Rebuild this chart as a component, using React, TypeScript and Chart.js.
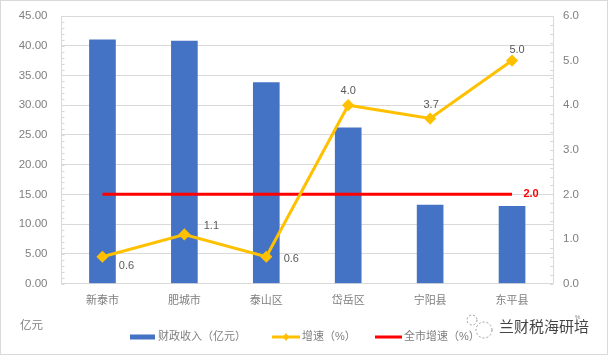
import React, { useEffect, useRef } from "react";
import { Chart, registerables } from "chart.js";

Chart.register(...registerables);

const categories = ["新泰市", "肥城市", "泰山区", "岱岳区", "宁阳县", "东平县"];
const revenue = [41.0, 40.8, 33.8, 26.2, 13.2, 13.0];
const growth = [0.6, 1.1, 0.6, 4.0, 3.7, 5.0];
const cityGrowth = [2.0, 2.0, 2.0, 2.0, 2.0, 2.0];
const seriesNames = ["财政收入（亿元）", "增速（%）", "全市增速（%）"];

const FONT = '"Liberation Sans", "Noto Sans CJK SC", sans-serif';
const GREY = "#7f7f7f";
const GRID = "#d9d9d9";
const labelOffsets: [number, number][] = [
  [24, 9],
  [27, -8],
  [25, 2],
  [0, -14],
  [1, -14],
  [5, -11],
];

const decorations = {
  id: "decorations",
  beforeDatasetsDraw(chart: any) {
    const { ctx, chartArea: a } = chart;
    ctx.save();
    ctx.strokeStyle = GRID;
    ctx.lineWidth = 1;
    const tick = (x0: number, x1: number, y: number) => {
      ctx.beginPath();
      ctx.moveTo(x0, y);
      ctx.lineTo(x1, y);
      ctx.stroke();
    };
    const h = a.bottom - a.top;
    for (let i = 0; i <= 45; i++) {
      const y = Math.round(a.top + (h * i) / 45) + 0.5;
      tick(a.left, a.left + 3, y);
    }
    for (let i = 0; i <= 30; i++) {
      const y = Math.round(a.top + (h * i) / 30) + 0.5;
      tick(a.right - 3, a.right, y);
    }
    ctx.restore();
  },
  afterDraw(chart: any) {
    const { ctx, width, height } = chart;
    ctx.save();
    // outer frame
    ctx.strokeStyle = GRID;
    ctx.lineWidth = 2;
    ctx.strokeRect(0, 0, width, height);

    // value labels
    ctx.font = `11px ${FONT}`;
    ctx.fillStyle = "#595959";
    ctx.textAlign = "center";
    ctx.textBaseline = "middle";
    const lineMeta = chart.getDatasetMeta(1);
    growth.forEach((v, i) => {
      const p = lineMeta.data[i];
      ctx.fillText(v.toFixed(1), p.x + labelOffsets[i][0], p.y + labelOffsets[i][1]);
    });
    const redMeta = chart.getDatasetMeta(0);
    const last = redMeta.data[5];
    ctx.font = `bold 11px ${FONT}`;
    ctx.fillStyle = "#ff0000";
    ctx.fillText(cityGrowth[5].toFixed(1), last.x + 19, last.y);

    // unit
    ctx.font = `11.5px ${FONT}`;
    ctx.fillStyle = GREY;
    ctx.textAlign = "left";
    ctx.fillText("亿元", 20, 326);

    // legend
    const y = 337;
    ctx.font = `11px ${FONT}`;
    const swatch = (x: number, w: number, color: string, thick: number) => {
      ctx.fillStyle = color;
      ctx.fillRect(x, y - thick / 2, w, thick);
    };
    swatch(130, 25, "#4472c4", 5);
    ctx.fillStyle = GREY;
    ctx.fillText(seriesNames[0], 158, y);
    swatch(272, 28, "#ffc000", 3);
    ctx.fillStyle = "#ffc000";
    ctx.beginPath();
    ctx.moveTo(286, y - 4);
    ctx.lineTo(289, y);
    ctx.lineTo(286, y + 4);
    ctx.lineTo(283, y);
    ctx.closePath();
    ctx.fill();
    ctx.fillStyle = GREY;
    ctx.fillText(seriesNames[1], 302, y);
    swatch(375, 27, "#ff0000", 3);
    ctx.fillStyle = GREY;
    ctx.fillText(seriesNames[2], 404, y);

    // watermark
    ctx.font = `15px ${FONT}`;
    ctx.fillStyle = "#444444";
    ctx.fillText("兰财税海研培", 499, 328);
    ctx.font = `6px ${FONT}`;
    ctx.fillStyle = GREY;
    ctx.fillText("%", 575, 317);
    ctx.strokeStyle = "#999999";
    ctx.lineWidth = 1;
    ctx.setLineDash([2, 2]);
    ctx.beginPath();
    ctx.arc(484, 330, 8, 0, Math.PI * 2);
    ctx.moveTo(477, 320);
    ctx.arc(472, 320, 5, 0, Math.PI * 2);
    ctx.stroke();
    ctx.restore();
  },
};

export default function App() {
  const ref = useRef<HTMLCanvasElement>(null);
  useEffect(() => {
    document.body.style.margin = "0";
    const chart = new Chart(ref.current!, {
      type: "bar",
      plugins: [decorations],
      data: {
        labels: categories,
        datasets: [
          {
            type: "line",
            label: seriesNames[2],
            data: cityGrowth,
            yAxisID: "y1",
            borderColor: "#ff0000",
            backgroundColor: "#ff0000",
            borderWidth: 3,
            pointRadius: 0,
            order: 2,
          },
          {
            type: "line",
            label: seriesNames[1],
            data: growth,
            yAxisID: "y1",
            borderColor: "#ffc000",
            backgroundColor: "#ffc000",
            borderWidth: 3,
            pointStyle: "rectRot",
            pointRadius: 4,
            pointHoverRadius: 4,
            order: 1,
          },
          {
            type: "bar",
            label: seriesNames[0],
            data: revenue,
            yAxisID: "y",
            backgroundColor: "#4472c4",
            barThickness: 26,
            order: 3,
          },
        ],
      } as any,
      options: {
        animation: false,
        responsive: false,
        layout: { padding: { top: 16, bottom: 0, left: 0, right: 0 } },
        plugins: { legend: { display: false }, tooltip: { enabled: false } },
        scales: {
          x: {
            grid: { display: false },
            border: { color: GRID },
            ticks: {
              color: GREY,
              font: { family: FONT, size: 11 },
              padding: 3,
              maxRotation: 0,
            },
            afterFit(s: any) {
              s.height = 71.5;
              s.paddingLeft = 0;
              s.paddingRight = 0;
            },
          },
          y: {
            position: "left",
            min: 0,
            max: 45,
            grid: { color: GRID, drawTicks: false },
            border: { color: GRID },
            ticks: {
              stepSize: 5,
              color: GREY,
              font: { family: FONT, size: 11.5 },
              padding: 14,
              callback: (v: any) => Number(v).toFixed(2),
            },
            afterFit(s: any) {
              s.width = 61.5;
              s.paddingTop = 0;
              s.paddingBottom = 0;
            },
          },
          y1: {
            position: "right",
            min: 0,
            max: 6,
            grid: { display: false, drawTicks: false },
            border: { color: GRID },
            ticks: {
              stepSize: 1,
              color: GREY,
              font: { family: FONT, size: 11.5 },
              padding: 10,
              callback: (v: any) => Number(v).toFixed(1),
            },
            afterFit(s: any) {
              s.width = 55;
              s.paddingTop = 0;
              s.paddingBottom = 0;
            },
          },
        },
      } as any,
    });
    return () => chart.destroy();
  }, []);
  return (
    <div style={{ width: 608, height: 355 }}>
      <canvas ref={ref} width={608} height={355} style={{ display: "block" }} />
    </div>
  );
}
